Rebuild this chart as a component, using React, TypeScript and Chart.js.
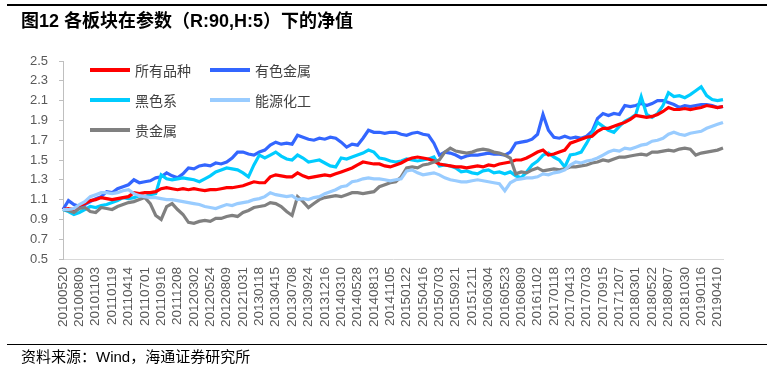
import React, { useEffect, useRef } from 'react';
import { Chart, registerables } from 'chart.js';

Chart.register(...registerables);

const tickLabels = [
  '20100520','20100809','20101103','20110119','20110414','20110701','20110916','20111208',
  '20120302','20120524','20120809','20121031','20130118','20130415','20130708','20130924',
  '20131216','20140310','20140528','20140813','20141105','20150122','20150416','20150703',
  '20150921','20151211','20160304','20160523','20160809','20161102','20170118','20170413',
  '20170703','20170915','20171207','20180301','20180522','20180807','20181030','20190116',
  '20190410'
];

// 所有品种
const allVarieties = [
  1.00,1.01,1.00,1.04,1.06,1.09,1.10,1.12,1.11,1.10,
  1.11,1.12,1.13,1.17,1.16,1.17,1.17,1.18,1.21,1.22,
  1.21,1.20,1.21,1.20,1.21,1.20,1.19,1.20,1.20,1.21,
  1.22,1.22,1.23,1.24,1.26,1.28,1.27,1.27,1.33,1.35,
  1.34,1.33,1.33,1.37,1.34,1.32,1.33,1.34,1.35,1.34,
  1.36,1.38,1.40,1.42,1.45,1.48,1.47,1.46,1.46,1.44,
  1.43,1.45,1.47,1.50,1.52,1.53,1.52,1.51,1.49,1.46,
  1.45,1.44,1.43,1.43,1.42,1.43,1.44,1.43,1.45,1.44,
  1.46,1.47,1.48,1.50,1.50,1.52,1.55,1.58,1.60,1.55,
  1.56,1.58,1.60,1.67,1.69,1.71,1.73,1.74,1.79,1.82,
  1.82,1.84,1.86,1.88,1.91,1.95,1.94,1.93,1.94,1.96,
  1.99,2.03,2.01,2.01,2.02,2.01,2.02,2.03,2.05,2.04,
  2.03,2.04
];

// 有色金属
const nonFerrous = [
  1.00,1.09,1.05,1.03,1.05,1.08,1.11,1.13,1.18,1.17,
  1.21,1.23,1.25,1.30,1.27,1.28,1.29,1.32,1.33,1.37,
  1.34,1.32,1.36,1.42,1.41,1.44,1.45,1.44,1.47,1.46,
  1.48,1.52,1.58,1.58,1.56,1.55,1.58,1.60,1.65,1.68,
  1.66,1.67,1.66,1.75,1.73,1.71,1.70,1.72,1.71,1.73,
  1.72,1.68,1.63,1.66,1.65,1.72,1.80,1.78,1.78,1.77,
  1.78,1.78,1.76,1.75,1.77,1.78,1.76,1.75,1.67,1.55,
  1.58,1.57,1.55,1.52,1.54,1.55,1.55,1.56,1.57,1.56,
  1.56,1.55,1.58,1.67,1.68,1.69,1.71,1.76,1.96,1.80,
  1.73,1.72,1.74,1.72,1.73,1.72,1.74,1.79,1.92,1.97,
  1.95,1.97,1.96,2.05,2.04,2.05,2.07,2.05,2.07,2.10,
  2.10,2.08,2.06,2.03,2.05,2.04,2.05,2.06,2.06,2.05,
  2.03,2.04
];

// 黑色系
const ferrous = [
  1.00,0.98,0.95,0.97,1.00,1.03,1.02,1.04,1.05,1.07,
  1.09,1.12,1.11,1.12,1.14,1.13,1.15,1.16,1.35,1.31,
  1.30,1.31,1.32,1.31,1.30,1.28,1.31,1.34,1.38,1.40,
  1.42,1.41,1.40,1.37,1.33,1.45,1.55,1.52,1.55,1.58,
  1.54,1.51,1.50,1.55,1.52,1.48,1.49,1.50,1.47,1.44,
  1.43,1.52,1.51,1.53,1.55,1.57,1.60,1.58,1.52,1.51,
  1.49,1.48,1.49,1.51,1.50,1.49,1.50,1.51,1.53,1.44,
  1.45,1.44,1.42,1.38,1.39,1.37,1.36,1.39,1.40,1.37,
  1.38,1.36,1.38,1.34,1.32,1.38,1.45,1.49,1.55,1.57,
  1.53,1.50,1.43,1.55,1.56,1.58,1.67,1.77,1.88,1.84,
  1.80,1.78,1.84,1.89,1.92,1.96,2.14,1.96,1.93,1.97,
  2.05,2.18,2.14,2.15,2.13,2.16,2.20,2.24,2.15,2.11,
  2.10,2.11
];

// 能源化工
const energyChem = [
  1.00,1.00,1.01,1.05,1.08,1.13,1.15,1.17,1.17,1.16,
  1.17,1.19,1.20,1.16,1.14,1.13,1.12,1.12,1.11,1.10,
  1.10,1.09,1.08,1.07,1.06,1.05,1.03,1.02,1.01,1.03,
  1.05,1.04,1.06,1.07,1.08,1.10,1.11,1.13,1.17,1.15,
  1.14,1.13,1.14,1.10,1.11,1.10,1.12,1.13,1.16,1.18,
  1.20,1.23,1.24,1.28,1.29,1.31,1.32,1.31,1.31,1.30,
  1.29,1.30,1.31,1.39,1.40,1.37,1.35,1.36,1.37,1.35,
  1.32,1.30,1.29,1.28,1.28,1.29,1.30,1.29,1.28,1.27,
  1.26,1.19,1.27,1.30,1.31,1.32,1.32,1.33,1.36,1.35,
  1.37,1.38,1.40,1.45,1.48,1.47,1.49,1.50,1.52,1.55,
  1.58,1.60,1.59,1.62,1.61,1.63,1.65,1.66,1.69,1.70,
  1.72,1.76,1.78,1.76,1.75,1.77,1.78,1.79,1.82,1.84,
  1.86,1.88
];

// 贵金属
const preciousMetals = [
  1.00,0.99,0.97,1.01,1.02,0.98,0.97,1.02,1.01,1.00,
  1.03,1.05,1.07,1.08,1.10,1.12,1.06,0.94,0.90,1.03,
  1.06,1.00,0.95,0.87,0.86,0.88,0.89,0.88,0.91,0.91,
  0.93,0.94,0.93,0.97,0.99,1.02,1.03,1.04,1.07,1.06,
  1.03,0.98,0.94,1.13,1.08,1.02,1.06,1.10,1.12,1.13,
  1.14,1.13,1.15,1.17,1.17,1.16,1.17,1.18,1.23,1.25,
  1.27,1.28,1.33,1.42,1.43,1.42,1.45,1.46,1.48,1.50,
  1.58,1.62,1.59,1.58,1.57,1.58,1.60,1.61,1.60,1.58,
  1.57,1.55,1.52,1.36,1.38,1.37,1.40,1.42,1.39,1.40,
  1.41,1.40,1.41,1.43,1.43,1.44,1.45,1.47,1.48,1.50,
  1.49,1.51,1.53,1.53,1.54,1.55,1.56,1.55,1.58,1.58,
  1.59,1.60,1.59,1.61,1.62,1.61,1.55,1.57,1.58,1.59,
  1.60,1.62
];

const seriesNames = ['所有品种', '有色金属', '黑色系', '能源化工', '贵金属'];
const seriesColors = ['#FF0000', '#3366FF', '#00CCFF', '#99CCFF', '#808080'];

const POINTS_PER_TICK = 3;

export default function App() {
  const ref = useRef<HTMLCanvasElement>(null);

  useEffect(() => {
    const n = allVarieties.length;
    const categories: string[] = [];
    for (let i = 0; i < n; i++) {
      categories.push(i % POINTS_PER_TICK === 0 && tickLabels[i / POINTS_PER_TICK] ? tickLabels[i / POINTS_PER_TICK] : '');
    }
    const values = [allVarieties, nonFerrous, ferrous, energyChem, preciousMetals];
    const drawOrder = [3, 4, 0, 2, 1];
    const datasets = drawOrder.map((k) => ({
      label: seriesNames[k],
      data: values[k],
      borderColor: seriesColors[k],
      backgroundColor: seriesColors[k],
      borderWidth: 3.2,
      pointRadius: 0,
      tension: 0,
      fill: false,
    }));
    const xFont = { family: '"Liberation Sans", Arial, sans-serif', size: 13.5 };
    const yFont = { family: '"Liberation Sans", Arial, sans-serif', size: 13 };
    const chart = new Chart(ref.current!, {
      type: 'line',
      data: { labels: categories, datasets },
      options: {
        animation: false,
        responsive: false,
        devicePixelRatio: 1,
        layout: { padding: { left: 0, right: 51, top: 61, bottom: 0 } },
        plugins: { legend: { display: false }, tooltip: { enabled: false } },
        scales: {
          x: {
            type: 'category',
            offset: false,
            grid: { display: true, drawOnChartArea: false, drawTicks: false, color: '#D9D9D9' },
            border: { display: true, color: '#D9D9D9', width: 1 },
            ticks: {
              autoSkip: false,
              maxRotation: 90,
              minRotation: 90,
              padding: 8,
              color: '#595959',
              font: xFont,
              callback: (_v: any, i: number) => categories[i],
            },
            afterFit: (s: any) => { s.height = 376 - 259; },
          },
          y: {
            min: 0.5,
            max: 2.5,
            ticks: {
              stepSize: 0.2,
              padding: 11,
              color: '#595959',
              font: yFont,
              callback: (v: any) => Number(v).toFixed(1),
            },
            grid: { drawOnChartArea: false, drawTicks: true, tickLength: 4, color: '#BFBFBF' },
            border: { display: true, color: '#BFBFBF', width: 1 },
            afterFit: (s: any) => { s.width = 63; },
          },
        },
      } as any,
    });
    return () => chart.destroy();
  }, []);

  const legendItem = (k: number, left: number, top: number) => (
    <div key={k} style={{ position: 'absolute', left, top, height: 16, display: 'flex', alignItems: 'center' }}>
      <div style={{ width: 40, height: 4, background: seriesColors[k], marginRight: 5 }} />
      <span style={{ fontSize: 14, color: '#404040', fontFamily: '"Noto Sans CJK SC", sans-serif', lineHeight: '16px' }}>
        {seriesNames[k]}
      </span>
    </div>
  );

  return (
    <div style={{ position: 'absolute', left: 0, top: 0, width: 774, height: 376, background: '#fff', overflow: 'hidden', fontFamily: '"Liberation Sans", "Noto Sans CJK SC", sans-serif' }}>
      <canvas ref={ref} width={774} height={376} style={{ position: 'absolute', left: 0, top: 0, width: 774, height: 376 }} />
      <div style={{ position: 'absolute', left: 7, top: 4, width: 760, height: 2, background: '#000' }} />
      <div style={{ position: 'absolute', left: 21, top: 9, fontSize: 18, fontWeight: 'bold', color: '#000', whiteSpace: 'nowrap', lineHeight: '24px', fontFamily: '"Liberation Sans", "Noto Sans CJK SC", sans-serif' }}>
        图12 各板块在参数（R:90,H:5）下的净值
      </div>
      {legendItem(0, 90, 62)}
      {legendItem(1, 210, 62)}
      {legendItem(2, 90, 92)}
      {legendItem(3, 210, 92)}
      {legendItem(4, 90, 122)}
      <div style={{ position: 'absolute', left: 7, top: 344, width: 760, height: 1, background: '#000' }} />
      <div style={{ position: 'absolute', left: 21, top: 347, fontSize: 15, color: '#000', whiteSpace: 'nowrap', lineHeight: '20px', fontFamily: '"Liberation Sans", "Noto Sans CJK SC", sans-serif' }}>
        资料来源：Wind，海通证券研究所
      </div>
    </div>
  );
}
